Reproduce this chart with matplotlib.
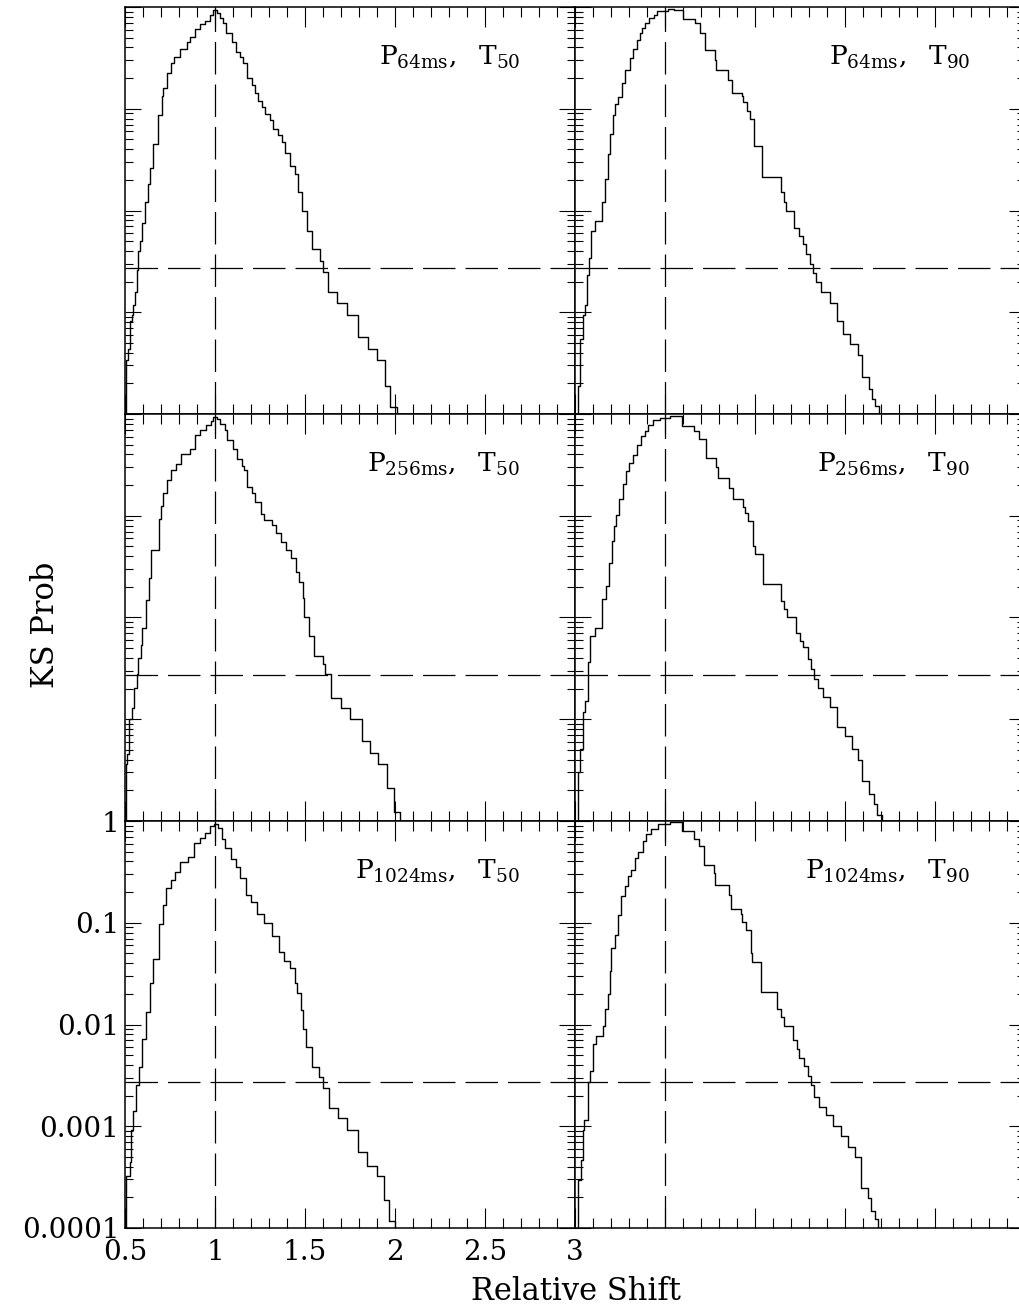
import numpy as np
import matplotlib
matplotlib.use("Agg")
import matplotlib.pyplot as plt
from matplotlib.ticker import MultipleLocator, LogLocator, FixedLocator, FixedFormatter, NullFormatter

plt.rcParams["font.family"] = ["DejaVu Serif"]
plt.rcParams["mathtext.fontset"] = "dejavuserif"

# Relative shift (x) and log10 of the KS probability for each peak-flux / duration pair.
# Each curve is a staircase: the value holds from one shift to the next.
shift_64_t50 = [0.500, 0.506, 0.519, 0.528, 0.537, 0.546, 0.556, 0.565, 0.574, 0.583, 0.593,
                0.611, 0.630, 0.639, 0.654, 0.685, 0.704, 0.713, 0.731, 0.754, 0.772, 0.806,
                0.846, 0.861, 0.889, 0.917, 0.944, 0.972, 0.991, 1.009, 1.028, 1.046, 1.061,
                1.093, 1.117, 1.139, 1.157, 1.176, 1.204, 1.222, 1.241, 1.259, 1.278, 1.306,
                1.324, 1.352, 1.370, 1.389, 1.417, 1.444, 1.463, 1.481, 1.509, 1.537, 1.583,
                1.602, 1.630, 1.676, 1.731, 1.796, 1.852, 1.898, 1.944, 1.972, 2.009]
logp_64_t50 = [-4.5, -3.47, -3.36, -3.09, -3.03, -2.93, -2.80, -2.58, -2.40, -2.30, -2.12,
               -1.92, -1.74, -1.58, -1.35, -1.06, -0.87, -0.80, -0.65, -0.55, -0.49, -0.41,
               -0.34, -0.29, -0.22, -0.17, -0.14, -0.08, -0.03, -0.06, -0.11, -0.16, -0.26,
               -0.34, -0.44, -0.49, -0.55, -0.70, -0.77, -0.85, -0.92, -0.98, -1.05, -1.11,
               -1.20, -1.26, -1.33, -1.43, -1.56, -1.64, -1.82, -2.00, -2.20, -2.38, -2.50,
               -2.60, -2.80, -2.91, -3.03, -3.24, -3.36, -3.47, -3.72, -3.93, -4.5]

shift_64_t90 = [0.500, 0.515, 0.528, 0.543, 0.553, 0.566, 0.577, 0.590, 0.609, 0.652, 0.665,
                0.684, 0.694, 0.709, 0.722, 0.741, 0.759, 0.778, 0.806, 0.825, 0.844, 0.863,
                0.872, 0.891, 0.910, 0.938, 0.957, 1.014, 1.051, 1.098, 1.164, 1.192, 1.224,
                1.276, 1.286, 1.352, 1.370, 1.427, 1.436, 1.455, 1.474, 1.492, 1.539, 1.643,
                1.662, 1.671, 1.718, 1.746, 1.765, 1.784, 1.803, 1.821, 1.840, 1.868, 1.915,
                1.953, 1.991, 2.028, 2.075, 2.094, 2.132, 2.150, 2.169, 2.188]
logp_64_t90 = [-4.5, -3.72, -3.26, -3.03, -2.93, -2.63, -2.47, -2.20, -2.10, -1.92, -1.69,
               -1.44, -1.25, -1.06, -0.95, -0.88, -0.75, -0.62, -0.50, -0.41, -0.32, -0.26,
               -0.21, -0.16, -0.11, -0.08, -0.04, -0.02, -0.03, -0.12, -0.16, -0.26, -0.42,
               -0.52, -0.62, -0.72, -0.85, -0.87, -0.93, -1.02, -1.10, -1.37, -1.67, -1.82,
               -1.92, -2.00, -2.17, -2.25, -2.33, -2.43, -2.53, -2.61, -2.70, -2.80, -2.91,
               -3.09, -3.21, -3.31, -3.42, -3.64, -3.75, -3.85, -3.92, -4.5]

shift_256_t50 = [0.500, 0.504, 0.513, 0.522, 0.541, 0.551, 0.564, 0.575, 0.588, 0.594, 0.616,
                 0.631, 0.644, 0.687, 0.700, 0.713, 0.734, 0.757, 0.781, 0.813, 0.860, 0.888,
                 0.916, 0.949, 0.978, 0.991, 1.009, 1.028, 1.056, 1.066, 1.099, 1.122, 1.150,
                 1.163, 1.178, 1.206, 1.225, 1.253, 1.272, 1.318, 1.337, 1.365, 1.393, 1.421,
                 1.449, 1.468, 1.487, 1.496, 1.524, 1.552, 1.599, 1.612, 1.646, 1.699, 1.749,
                 1.815, 1.861, 1.908, 1.955, 1.993, 2.030]
logp_256_t50 = [-4.5, -3.44, -3.34, -3.00, -2.89, -2.69, -2.56, -2.40, -2.27, -2.10, -1.83,
                -1.61, -1.34, -1.03, -0.90, -0.78, -0.65, -0.55, -0.49, -0.39, -0.34, -0.21,
                -0.16, -0.11, -0.07, -0.03, -0.05, -0.10, -0.16, -0.26, -0.34, -0.44, -0.51,
                -0.55, -0.72, -0.78, -0.86, -0.98, -1.04, -1.09, -1.17, -1.26, -1.34, -1.42,
                -1.55, -1.65, -1.81, -2.00, -2.18, -2.38, -2.46, -2.56, -2.79, -2.89, -3.00,
                -3.21, -3.33, -3.44, -3.68, -3.91, -4.5]

shift_256_t90 = [0.500, 0.519, 0.528, 0.547, 0.557, 0.572, 0.585, 0.609, 0.651, 0.670, 0.689,
                 0.704, 0.717, 0.730, 0.745, 0.764, 0.783, 0.802, 0.825, 0.843, 0.868, 0.887,
                 0.906, 0.934, 0.972, 1.028, 1.094, 1.160, 1.189, 1.226, 1.283, 1.292, 1.358,
                 1.377, 1.434, 1.443, 1.462, 1.491, 1.500, 1.547, 1.642, 1.660, 1.679, 1.726,
                 1.749, 1.764, 1.792, 1.811, 1.830, 1.849, 1.877, 1.915, 1.953, 2.000, 2.038,
                 2.075, 2.094, 2.132, 2.160, 2.179, 2.208]
logp_256_t90 = [-4.5, -3.52, -3.29, -2.93, -2.82, -2.44, -2.18, -2.10, -1.82, -1.69, -1.46,
                -1.25, -1.10, -0.99, -0.84, -0.69, -0.56, -0.48, -0.40, -0.30, -0.22, -0.17,
                -0.11, -0.06, -0.04, -0.02, -0.12, -0.17, -0.25, -0.43, -0.52, -0.63, -0.73,
                -0.84, -0.91, -0.97, -1.05, -1.30, -1.38, -1.67, -1.84, -1.92, -2.00, -2.15,
                -2.23, -2.29, -2.41, -2.51, -2.60, -2.69, -2.78, -2.88, -3.08, -3.16, -3.29,
                -3.40, -3.61, -3.73, -3.83, -3.94, -4.5]

shift_1024_t50 = [0.500, 0.508, 0.525, 0.535, 0.545, 0.559, 0.576, 0.596, 0.617, 0.637, 0.654,
                  0.689, 0.709, 0.730, 0.756, 0.777, 0.807, 0.852, 0.883, 0.914, 0.945, 0.975,
                  0.996, 1.016, 1.037, 1.057, 1.088, 1.119, 1.139, 1.170, 1.201, 1.232, 1.273,
                  1.314, 1.355, 1.385, 1.416, 1.447, 1.457, 1.477, 1.488, 1.508, 1.539, 1.580,
                  1.600, 1.631, 1.682, 1.734, 1.795, 1.846, 1.898, 1.939, 1.969, 2.000]
logp_1024_t50 = [-4.5, -3.49, -3.35, -3.04, -2.85, -2.59, -2.42, -2.14, -1.88, -1.59, -1.36,
                 -1.01, -0.83, -0.66, -0.58, -0.50, -0.40, -0.35, -0.22, -0.17, -0.12, -0.05,
                 -0.03, -0.07, -0.18, -0.27, -0.37, -0.45, -0.56, -0.73, -0.80, -0.91, -1.00,
                 -1.13, -1.29, -1.38, -1.44, -1.59, -1.69, -1.86, -2.04, -2.22, -2.42, -2.52,
                 -2.62, -2.82, -2.92, -3.04, -3.25, -3.39, -3.49, -3.72, -3.93, -4.5]

shift_1024_t90 = [0.500, 0.519, 0.534, 0.543, 0.552, 0.571, 0.586, 0.599, 0.618, 0.655, 0.664,
                  0.683, 0.692, 0.701, 0.720, 0.739, 0.757, 0.776, 0.795, 0.813, 0.832, 0.851,
                  0.879, 0.897, 0.925, 0.963, 1.000, 1.028, 1.093, 1.159, 1.187, 1.218, 1.271,
                  1.280, 1.354, 1.364, 1.420, 1.429, 1.448, 1.476, 1.485, 1.532, 1.625, 1.644,
                  1.662, 1.709, 1.731, 1.746, 1.774, 1.793, 1.812, 1.830, 1.858, 1.896, 1.933,
                  1.979, 2.017, 2.054, 2.091, 2.129, 2.147, 2.166, 2.185]
logp_1024_t90 = [-4.5, -3.53, -3.33, -3.04, -2.94, -2.57, -2.46, -2.19, -2.11, -2.01, -1.85,
                 -1.70, -1.47, -1.25, -1.12, -0.92, -0.74, -0.64, -0.54, -0.48, -0.36, -0.30,
                 -0.20, -0.13, -0.08, -0.03, -0.03, -0.01, -0.10, -0.18, -0.25, -0.43, -0.51,
                 -0.63, -0.73, -0.86, -0.91, -0.99, -1.07, -1.30, -1.39, -1.68, -1.85, -1.93,
                 -2.01, -2.15, -2.24, -2.33, -2.41, -2.51, -2.59, -2.71, -2.81, -2.89, -3.00,
                 -3.10, -3.20, -3.30, -3.61, -3.71, -3.83, -3.91, -4.5]

# Panel titles (timescale subscript, duration subscript)
timescales = ["64ms", "256ms", "1024ms"]
durations = ["50", "90"]

# Reference levels
threshold_prob = 0.0027
nominal_shift = 1.0

# Axis ranges and tick labels
x_range = (0.5, 3.0)
y_range = (1e-4, 1.0)
x_tick_values = [0.5, 1.0, 1.5, 2.0, 2.5, 3.0]
x_tick_labels = ["0.5", "1", "1.5", "2", "2.5", "3"]
y_tick_values = [1e-4, 1e-3, 1e-2, 1e-1, 1.0]
y_tick_labels = ["0.0001", "0.001", "0.01", "0.1", "1"]

curves = {
    (0, 0): (shift_64_t50, logp_64_t50),
    (0, 1): (shift_64_t90, logp_64_t90),
    (1, 0): (shift_256_t50, logp_256_t50),
    (1, 1): (shift_256_t90, logp_256_t90),
    (2, 0): (shift_1024_t50, logp_1024_t50),
    (2, 1): (shift_1024_t90, logp_1024_t90),
}

W_PX, H_PX = 1020, 1312
fig = plt.figure(figsize=(W_PX / 100, H_PX / 100), dpi=100)

col_left = [125, 575]
panel_w = 450
row_top = [7, 414, 821]
panel_h = 407

dash = (0, (26, 8))

for (r, c), (xs, lp) in curves.items():
    ax = fig.add_axes([col_left[c] / W_PX, 1 - (row_top[r] + panel_h) / H_PX,
                       panel_w / W_PX, panel_h / H_PX])
    ax.set_yscale("log")
    ax.set_xlim(*x_range)
    ax.set_ylim(*y_range)

    ax.step(xs, 10.0 ** np.asarray(lp), where="post", color="black", lw=1.0)
    ax.axhline(threshold_prob, color="black", lw=0.9, ls=dash)
    ax.axvline(nominal_shift, color="black", lw=0.9, ls=dash)

    ax.xaxis.set_major_locator(MultipleLocator(0.5))
    ax.xaxis.set_minor_locator(MultipleLocator(0.1))
    ax.yaxis.set_major_locator(FixedLocator(y_tick_values))
    ax.yaxis.set_minor_locator(LogLocator(base=10, subs=np.arange(2, 10), numticks=20))
    ax.yaxis.set_minor_formatter(NullFormatter())

    ax.tick_params(which="both", direction="in", top=True, right=True,
                   width=0.8, labelsize=20, colors="black")
    ax.tick_params(axis="x", which="major", length=14.5, pad=8)
    ax.tick_params(axis="x", which="minor", length=7.2)
    ax.tick_params(axis="y", which="major", length=11.5, pad=4)
    ax.tick_params(axis="y", which="minor", length=5.8)

    for sp in ax.spines.values():
        sp.set_linewidth(1.1)

    if r == 2 and c == 0:
        ax.xaxis.set_major_locator(FixedLocator(x_tick_values))
        ax.xaxis.set_major_formatter(FixedFormatter(x_tick_labels))
        ax.yaxis.set_major_formatter(FixedFormatter(y_tick_labels))
    else:
        ax.tick_params(labelbottom=False, labelleft=False)

    label = r"$\mathrm{P_{%s},\ \ T_{%s}}$" % (timescales[r], durations[c])
    ax.text(0.878, 0.857, label, transform=ax.transAxes, ha="right",
            va="baseline", fontsize=19)

fig.text(46 / W_PX, 1 - 625 / H_PX, "KS Prob", rotation=90, fontsize=22,
         ha="center", va="center")
fig.text(576 / W_PX, 1 - 1292 / H_PX, "Relative Shift", fontsize=22,
         ha="center", va="center")

fig.savefig("out.png", dpi=100, facecolor="white")
